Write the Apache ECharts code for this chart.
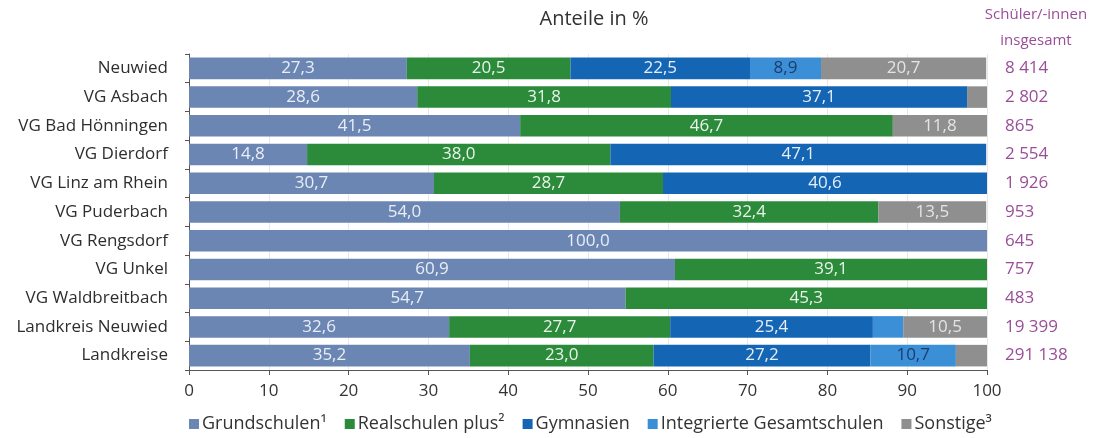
<!DOCTYPE html>
<html lang="de">
<head>
<meta charset="utf-8">
<title>Schülerinnen und Schüler nach Schularten</title>
<script src="https://cdn.jsdelivr.net/npm/echarts@6/dist/echarts.min.js"></script>
<style>
  html, body { margin: 0; padding: 0; background: #ffffff; }
  #chart { width: 1093px; height: 438px; }
</style>
</head>
<body>
<div id="chart"></div>
<script>
// Gebiete (von oben nach unten)
const regions = [
  'Neuwied', 'VG Asbach', 'VG Bad Hönningen', 'VG Dierdorf', 'VG Linz am Rhein',
  'VG Puderbach', 'VG Rengsdorf', 'VG Unkel', 'VG Waldbreitbach',
  'Landkreis Neuwied', 'Landkreise'
];

// Anteile in % je Schulart
const grundschulen = [27.3, 28.6, 41.5, 14.8, 30.7, 54.0, 100.0, 60.9, 54.7, 32.6, 35.2];
const realschulenPlus = [20.5, 31.8, 46.7, 38.0, 28.7, 32.4, 0, 39.1, 45.3, 27.7, 23.0];
const gymnasien = [22.5, 37.1, 0, 47.1, 40.6, 0, 0, 0, 0, 25.4, 27.2];
const gesamtschulen = [8.9, 0, 0, 0, 0, 0, 0, 0, 0, 3.8, 10.7];
const sonstige = [20.7, 2.5, 11.8, 0, 0, 13.5, 0, 0, 0, 10.5, 3.9];

// Schüler/-innen insgesamt
const totals = ['8 414', '2 802', '865', '2 554', '1 926', '953', '645', '757', '483', '19 399', '291 138'];

// Achsenbeschriftung
const xTicks = [0, 10, 20, 30, 40, 50, 60, 70, 80, 90, 100];

const FONT = '"Open Sans", "Noto Sans", sans-serif';
const PURPLE = '#9a4d98';

const seriesDefs = [
  { name: 'Grundschulen¹', data: grundschulen, color: '#6c86b4', labelColor: '#e9eef6' },
  { name: 'Realschulen plus²', data: realschulenPlus, color: '#2b8b3b', labelColor: '#e9f3ea' },
  { name: 'Gymnasien', data: gymnasien, color: '#1565b5', labelColor: '#e6eef8' },
  { name: 'Integrierte Gesamtschulen', data: gesamtschulen, color: '#3a8fd6', labelColor: '#1d3c6e' },
  { name: 'Sonstige³', data: sonstige, color: '#8f8f8f', labelColor: '#e4e4e4' }
];

const fmt = v => v.toFixed(1).replace('.', ',');

const headStyle = { fontFamily: FONT, fontSize: 15, fontWeight: 'normal', color: PURPLE };

const chart = echarts.init(document.getElementById('chart'), null, { renderer: 'canvas' });

chart.setOption({
  backgroundColor: '#ffffff',
  animation: false,
  textStyle: { fontFamily: FONT },
  title: [
    {
      text: 'Anteile in %',
      left: 589, top: 4, textAlign: 'center',
      textStyle: { fontFamily: FONT, fontSize: 20, fontWeight: 'normal', color: '#333333' }
    },
    { text: 'Schüler/-innen', left: 1031, top: 2, textAlign: 'center', textStyle: headStyle },
    { text: 'insgesamt', left: 1031, top: 28, textAlign: 'center', textStyle: headStyle }
  ],
  legend: {
    left: 184, bottom: 0,
    itemWidth: 10, itemHeight: 10, itemGap: 18,
    icon: 'rect',
    textStyle: { fontFamily: FONT, fontSize: 18, color: '#333333', padding: [0, 0, 0, -2] },
    data: seriesDefs.map(s => s.name)
  },
  grid: { left: 189, right: 106, top: 54, bottom: 68, containLabel: false },
  xAxis: {
    type: 'value', min: xTicks[0], max: xTicks[xTicks.length - 1], interval: xTicks[1] - xTicks[0],
    axisLine: { show: true, lineStyle: { color: '#555555', width: 1 } },
    axisTick: { show: true, length: 5, lineStyle: { color: '#555555' } },
    axisLabel: { fontFamily: FONT, fontSize: 17, color: '#333333', margin: 13 },
    splitLine: { show: true, lineStyle: { color: '#e8e8e8', width: 1 } }
  },
  yAxis: [
    {
      type: 'category', data: regions, inverse: true,
      axisLine: { show: true, lineStyle: { color: '#555555' } },
      axisTick: { show: true, length: 4, lineStyle: { color: '#555555' } },
      axisLabel: { fontFamily: FONT, fontSize: 17, color: '#2e2e2e', margin: 21 }
    },
    {
      type: 'category', data: totals, inverse: true, position: 'right',
      axisLine: { show: false }, axisTick: { show: false },
      axisLabel: { fontFamily: FONT, fontSize: 17, color: PURPLE, margin: 18 }
    }
  ],
  series: seriesDefs.map(s => ({
    name: s.name,
    type: 'bar',
    stack: 'anteile',
    barCategoryGap: '25%',
    itemStyle: { color: s.color },
    label: {
      show: true, position: 'inside',
      fontFamily: FONT, fontSize: 17, color: s.labelColor,
      formatter: p => (p.value >= 5 ? fmt(p.value) : '')
    },
    data: s.data
  }))
});
</script>
</body>
</html>
